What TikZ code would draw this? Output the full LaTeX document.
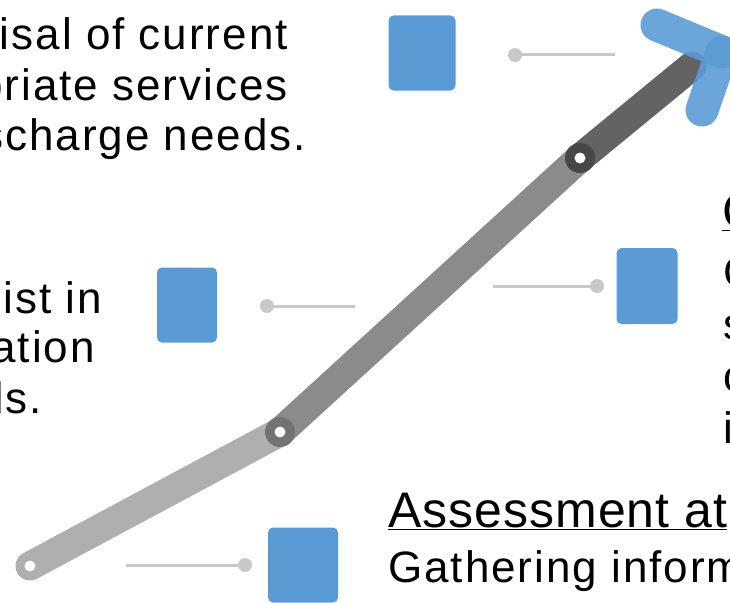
\documentclass[tikz,border=0pt]{standalone}
\usepackage{fontspec}
\setmainfont{Liberation Sans}
\newfontfamily\spacedfont[LetterSpace=4.5]{Liberation Sans}
\newfontfamily\headfont[LetterSpace=2]{Liberation Sans}
\usetikzlibrary{positioning}
\definecolor{boxblue}{HTML}{5B9BD5}
\definecolor{leadgray}{HTML}{C8C8C8}
\definecolor{armlight}{HTML}{AFAFAF}
\definecolor{armmid}{HTML}{8B8B8B}
\definecolor{armdark}{HTML}{636363}
\tikzset{
    % Colors
    box color/.style={fill=boxblue,draw=none},
    lead color/.style={leadgray},
    %
    % Boxes and leader lines
    icon box/.style={box color,rounded corners=5pt,inner sep=0pt},
    lead dot/.style={circle,fill=leadgray,inner sep=0pt,minimum size=14pt},
    lead line/.style={lead color,line width=3pt},
    %
    % Arm
    arm/.style={line width=29pt,line cap=round,color=#1},
    hole/.style={circle,fill=white,inner sep=0pt,minimum size=11pt},
    head bar/.style={line width=33pt,line cap=round,boxblue,opacity=.9},
    %
    % Text
    body text/.style={font=\spacedfont\fontsize{44}{51}\selectfont,inner sep=0pt},
    head text/.style={font=\headfont\fontsize{50}{56}\selectfont,inner sep=0pt},
}

\begin{document}
\begin{tikzpicture}[x=1pt,y=-1pt]
    \useasboundingbox (0,0) rectangle (730,602);
    \clip (0,0) rectangle (730,602);

    % arm
    \coordinate (base) at (30,566);
    \coordinate (elbow) at (280,432);
    \coordinate (wrist) at (580,158);
    \coordinate (tip) at (692,66);
    \coordinate (head) at (722,52);
    \draw[arm=armlight] (base) -- (elbow);
    \draw[arm=armmid] (elbow) -- (wrist);
    \fill[black!55] (elbow) circle (15);
    \draw[arm=armdark] (wrist) -- (tip);
    \fill[black!72] (wrist) circle (15);
    \node[hole] at (base) {};
    \node[hole] at (elbow) {};
    \node[hole] at (wrist) {};
    \draw[head bar] (head) -- (657,25);
    \draw[head bar] (head) -- (702,110);

    % boxes
    \node[icon box,minimum width=67pt,minimum height=75pt] (box1) at (422,53) {};
    \node[icon box,minimum width=60pt,minimum height=75pt] (box2) at (187,305) {};
    \node[icon box,minimum width=61pt,minimum height=76pt] (box3) at (647,286) {};
    \node[icon box,minimum width=70pt,minimum height=75pt] (box4) at (303,565) {};

    % leader lines
    \node[lead dot] (dot1) at (515,55) {};
    \coordinate (end1) at (615,55);
    \draw[lead line] (dot1) -- (end1);
    \node[lead dot] (dot2) at (267,306) {};
    \coordinate (end2) at (355,306);
    \draw[lead line] (dot2) -- (end2);
    \node[lead dot] (dot3) at (597,286) {};
    \coordinate (end3) at (493,286);
    \draw[lead line] (dot3) -- (end3);
    \node[lead dot] (dot4) at (245,565) {};
    \coordinate (end4) at (126,565);
    \draw[lead line] (dot4) -- (end4);

    % texts
    \node[body text,anchor=base east] (t1a) at (288,49) {isal of current};
    \node[body text,anchor=base east] (t1b) at (288,100) {priate services};
    \node[body text,anchor=base east] (t1c) at (306,150) {scharge needs.};
    \node[body text,anchor=base east] (t2a) at (102,313) {sist in};
    \node[body text,anchor=base east] (t2b) at (95,362) {ation};
    \node[body text,anchor=base east] (t2c) at (42,413) {ds.};
    \node[head text,anchor=base west] (h3) at (722,228) {\underline{C}};
    \foreach \l/\y in {C/287,s/339,c/391,i/443}
        \node[body text,anchor=base west] at (723,\y) {\l};
    \node[head text,anchor=base west] (h4) at (388,527) {\underline{Assessment at}};
    \node[body text,anchor=base west] (t4a) at (388,582) {Gathering inform};
\end{tikzpicture}
\end{document}
